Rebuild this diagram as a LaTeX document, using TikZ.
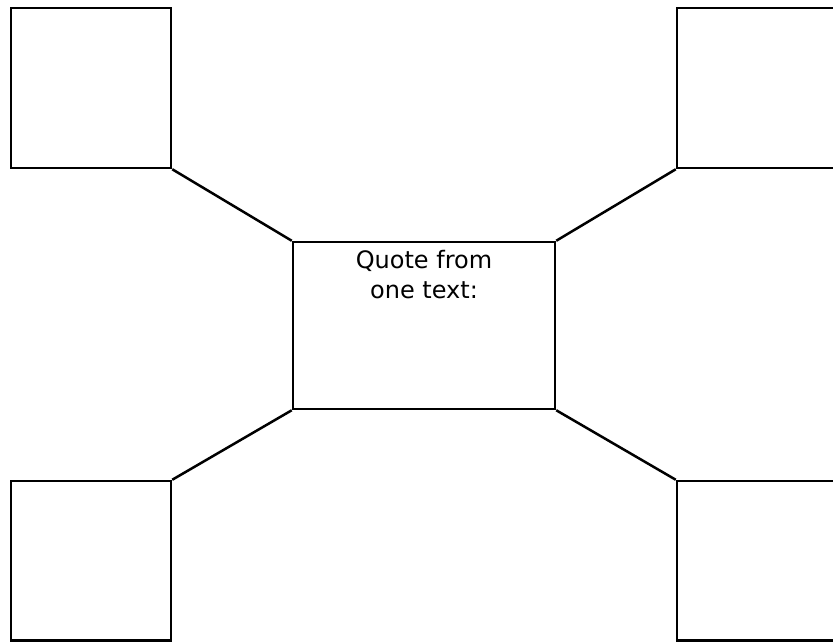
\documentclass[tikz,border=0pt]{standalone}
\usepackage{fontspec}
\setmainfont{DejaVu Sans}
\begin{document}
\begin{tikzpicture}[x=1pt,y=-1pt,
  box/.style={draw=black,line width=2.5pt,rectangle,inner sep=0pt},
  link/.style={draw=black,line width=2.5pt}]
\useasboundingbox (0,0) rectangle (833,641);
\clip (0,0) rectangle (833,641);
\node[box,minimum width=160pt,minimum height=160pt] (tl) at (91,88) {};
\node[box,minimum width=170pt,minimum height=160pt] (tr) at (762,88) {};
\node[box,minimum width=160pt,minimum height=159.5pt] (bl) at (91,560.75) {};
\node[box,minimum width=170pt,minimum height=159.5pt] (br) at (762,560.75) {};
\node[box,minimum width=262pt,minimum height=167pt] (c) at (424,325.5) {};
\node[anchor=north,inner sep=0pt,align=center,font=\fontsize{24}{30}\selectfont] (q) at (424,250) {Quote from\\one text:};
\draw[link] (tl.south east) -- (c.north west);
\draw[link] (tr.south west) -- (c.north east);
\draw[link] (bl.north east) -- (c.south west);
\draw[link] (br.north west) -- (c.south east);
\end{tikzpicture}
\end{document}
